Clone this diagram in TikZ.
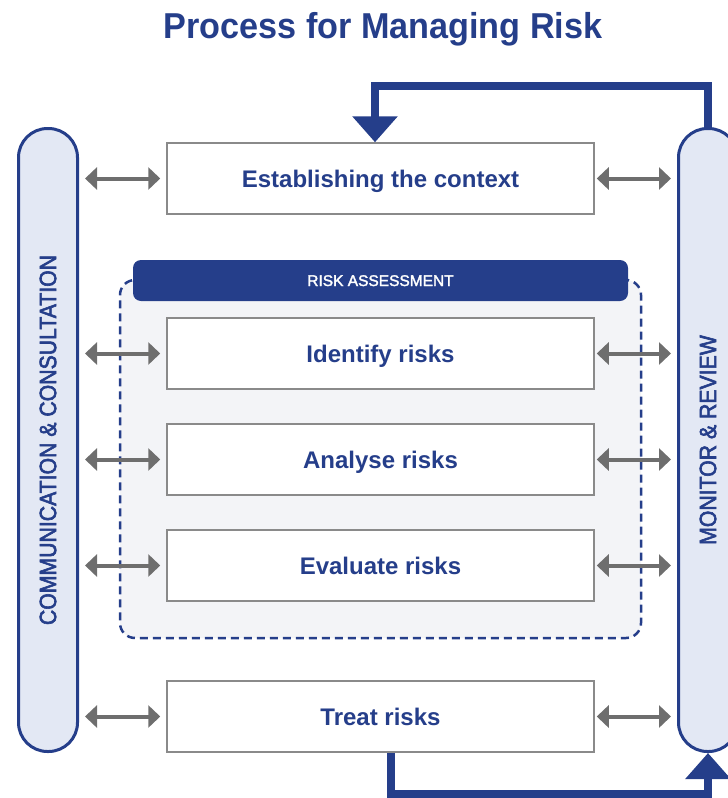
\documentclass[tikz,border=0pt]{standalone}
\usepackage{fontspec}
\setmainfont{Liberation Sans}
\newfontfamily\cond[FakeStretch=0.95]{Liberation Sans}
\newfontfamily\condmed[FakeStretch=0.9,FakeBold=2.5]{Liberation Sans}
\newfontfamily\hdrfont[FakeBold=2]{Liberation Sans}
\usetikzlibrary{arrows.meta,calc}
\definecolor{navy}{HTML}{253E8A}
\definecolor{boxgray}{HTML}{8A8A8A}
\definecolor{arrgray}{HTML}{6E6E6E}
\definecolor{pillfill}{HTML}{E3E8F4}
\definecolor{rafill}{HTML}{F3F4F7}
\begin{document}
\begin{tikzpicture}[x=1pt,y=-1pt,
  stepbox/.style={draw=boxgray, line width=1.5pt, fill=white, minimum width=427pt, minimum height=71pt, inner sep=0pt, text height=17pt, text depth=0pt, font=\bfseries\fontsize{24}{28}\selectfont, text=navy},
  pill/.style={draw=navy, line width=3pt, fill=pillfill, rounded corners=29pt, minimum width=623pt, minimum height=59pt, rotate=90, inner sep=0pt, font=\condmed\fontsize{23.6}{26}\selectfont, text=navy},
  dbl/.style={draw=arrgray, line width=4pt, {Triangle[length=12pt,width=22pt]}-{Triangle[length=12pt,width=22pt]}, shorten <=6pt, shorten >=6pt},
  bigarrow/.style={draw=navy, line width=8pt, -{Triangle[length=26pt,width=44pt]}},
  hdrbox/.style={fill=navy, rounded corners=8pt, minimum width=495pt, minimum height=41pt, inner sep=0pt, text height=11pt, text depth=0pt, text=white, font=\hdrfont\fontsize{15.5}{18}\selectfont},
  raregion/.style={draw=navy, fill=rafill, line width=2.5pt, dash pattern=on 8pt off 5pt, rounded corners=15pt, minimum width=521pt, minimum height=358pt, inner sep=0pt}
]
\useasboundingbox (0,0) rectangle (728,798);

\node[font=\cond\bfseries\fontsize{36}{40}\selectfont, text=navy] (title) at (383,29) {Process for Managing Risk};

\node[pill] (comm) at (48,440) {COMMUNICATION \& CONSULTATION};
\node[pill] (mon) at (708,440) {MONITOR \& REVIEW};

\node[raregion] (ra) at (380.5,459) {};
\node[hdrbox] (hdr) at (380.5,280.5) {RISK ASSESSMENT};

\node[stepbox] (ctx) at (380.5,178.5) {Establishing the context};
\node[stepbox] (idf) at (380.5,353.5) {Identify risks};
\node[stepbox] (ana) at (380.5,459.5) {Analyse risks};
\node[stepbox] (eva) at (380.5,565.5) {Evaluate risks};
\node[stepbox] (trt) at (380.5,716.5) {Treat risks};

\foreach \b in {ctx,idf,ana,eva,trt}{
  \draw[dbl] (\b.west -| comm.south) -- (\b.west);
  \draw[dbl, shorten <=2pt] (\b.east) -- (\b.east -| mon.north);
}

\draw[bigarrow] (mon.east) -- ++(0,-41) -| ([xshift=-5.5pt]ctx.north);
\draw[bigarrow] ([xshift=10pt]trt.south) -- ++(0,41) -| (mon.west);
\end{tikzpicture}
\end{document}
